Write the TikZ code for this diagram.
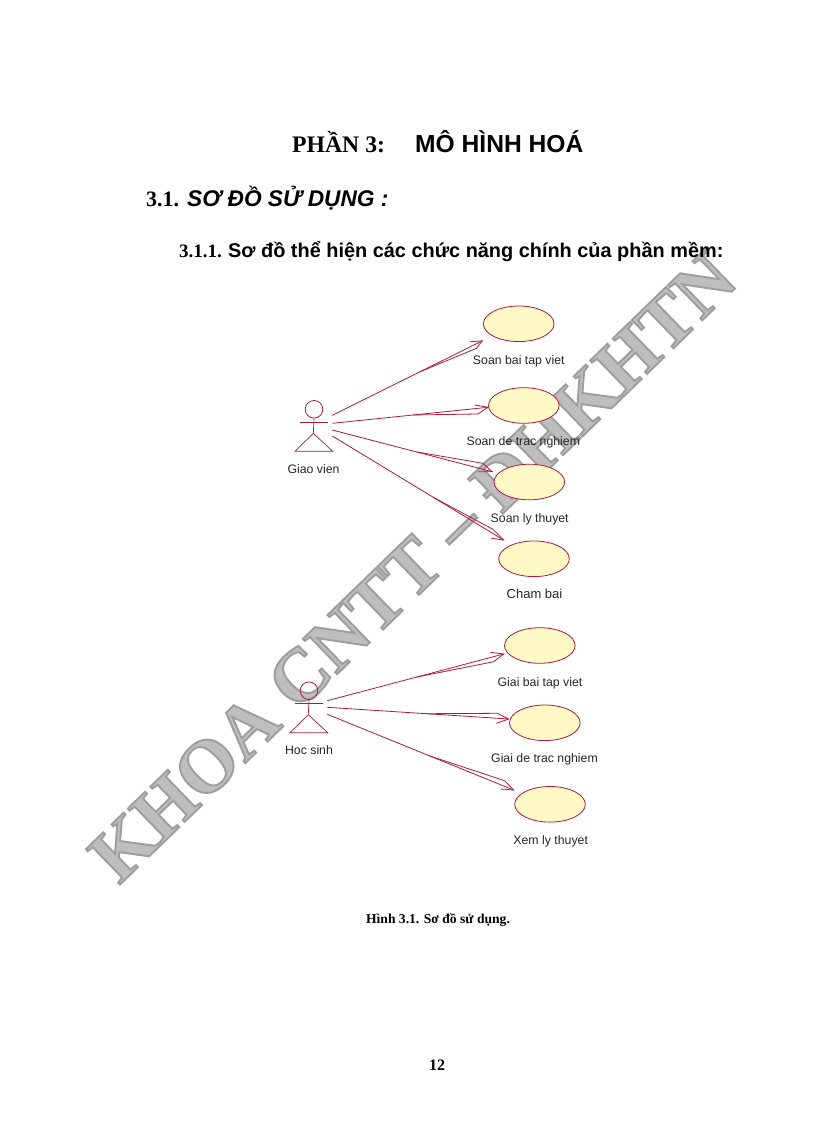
\documentclass[tikz,border=0pt]{standalone}
\usepackage{fontspec}
\usetikzlibrary{shapes.geometric,calc}
\setmainfont{Liberation Serif}
\setsansfont{Liberation Sans}
\newfontfamily\wmfont[FakeBold=2.6]{Liberation Serif Bold}
\definecolor{umlline}{HTML}{B01840}
\definecolor{umlfill}{HTML}{FFF9C6}
\definecolor{wmgray}{HTML}{BEBEBE}
\newcommand{\fsz}[1]{\fontsize{#1}{#1}\selectfont}
\newcommand{\ucassoc}[6]{%
  \coordinate (s#1) at #2;
  \coordinate (t#1) at #3;
  \coordinate (d#1) at ($(s#1)!#4!(t#1)$);
  \draw[assoc] (s#1) -- (t#1);
  \draw[assoc] (d#1) -- ([shift={#5}]t#1) -- (t#1) -- ([shift={#6}]t#1);
}
\newcommand{\ucactor}[2]{%
  \draw[actorline] (#1.south) -- ([shift={(#2,24)}]#1.center);
  \draw[actorline] ([shift={(-14,12.7)}]#1.center) -- ([shift={(13.5,12.7)}]#1.center);
  \draw[actorline] ([shift={(-0.7,24)}]#1.center) -- ([shift={(-19,42)}]#1.center) -- ([shift={(18.7,42)}]#1.center) -- cycle;
}
\tikzset{
  usecase/.style={draw=umlline,fill=umlfill,line width=0.8pt,ellipse,minimum width=70.6pt,minimum height=35.6pt,inner sep=0pt},
  actorhead/.style={draw=umlline,line width=0.8pt,circle,minimum size=17.6pt,inner sep=0pt},
  actorline/.style={draw=umlline,line width=0.7pt},
  assoc/.style={draw=umlline,line width=0.8pt},
  lbl/.style={font=\sffamily\fsz{12.3},text=black!85,anchor=base,inner sep=0pt},
  head/.style={anchor=base west,inner sep=0pt,text=black},
}
\begin{document}
\begin{tikzpicture}[x=1pt,y=-1pt]
\useasboundingbox (0,0) rectangle (816,1123);
\node[anchor=base west,inner sep=0pt,rotate=44.1,text=wmgray] (wm) at (119,885.5)
  {\wmfont\fsz{75}\special{pdf:code 0.62 G}KHOA CNTT – ĐHKHTN};
\node[head,font=\bfseries\fsz{23.7}] (t1a) at (292,153) {PHẦN 3:};
\node[head,font=\sffamily\bfseries\fsz{24.6}] (t1b) at (415,153) {MÔ HÌNH HOÁ};
\node[head,font=\bfseries\fsz{22}] (t2a) at (146,207) {3.1.};
\node[head,font=\sffamily\bfseries\itshape\fsz{22.7}] (t2b) at (187,207) {SƠ ĐỒ SỬ DỤNG :};
\node[head,font=\bfseries\fsz{19}] (t3a) at (179,257) {3.1.1.};
\node[head,font=\sffamily\bfseries\fsz{19.9}] (t3b) at (228,257) {Sơ đồ thể hiện các chức năng chính của phần mềm:};
\node[usecase] (e1) at (518.7,323.8) {};
\node[usecase] (e2) at (523.8,405.5) {};
\node[usecase] (e3) at (529.3,482) {};
\node[usecase] (e4) at (534,558.8) {};
\node[usecase] (e5) at (539.8,645.5) {};
\node[usecase] (e6) at (544.8,722.8) {};
\node[usecase] (e7) at (550,804.3) {};
\node[lbl] (l1) at (518.8,364) {Soan bai tap viet};
\node[lbl] (l2) at (523.3,445.5) {Soan de trac nghiem};
\node[lbl] (l3) at (529.7,522.5) {Soan ly thuyet};
\node[lbl,font=\sffamily\fsz{13}] (l4) at (534.5,598.8) {Cham bai};
\node[lbl] (l5) at (540,686.2) {Giai bai tap viet};
\node[lbl] (l6) at (544.5,762.8) {Giai de trac nghiem};
\node[lbl] (l7) at (550.7,844.5) {Xem ly thuyet};
\node[actorhead] (gv) at (314,409.3) {};
\node[actorhead] (hs) at (309,690.7) {};
\ucactor{gv}{-0.7}
\ucactor{hs}{-0.7}
\node[lbl] (lgv) at (313.5,473.2) {Giao vien};
\node[lbl] (lhs) at (309,754.5) {Hoc sinh};
\ucassoc{1}{([shift={(18.3,6)}]gv.center)}{([shift={(-0.7,17)}]e1.west)}{.583}{(-6,7.6)}{(-12.7,1)}
\ucassoc{2}{([shift={(18.3,14)}]gv.center)}{([shift={(-0.2,1.8)}]e2.west)}{.52}{(-10,6.7)}{(-13.3,-2.3)}
\ucassoc{3}{([shift={(18.3,20.7)}]gv.center)}{([shift={(-1.3,-10.3)}]e3.west)}{.526}{(-9.4,-8.4)}{(-14.4,0)}
\ucassoc{4}{([shift={(18.3,26.7)}]gv.center)}{([shift={(5.3,-18.8)}]e4.west)}{.588}{(-10.7,-10.7)}{(-12.3,-1.7)}
\ucassoc{5}{([shift={(18.3,10)}]hs.center)}{([shift={(-0.5,8.5)}]e5.west)}{.506}{(-10,7.7)}{(-13.3,-1.7)}
\ucassoc{6}{([shift={(18.3,16.6)}]hs.center)}{([shift={(-0.5,-3.8)}]e6.west)}{.547}{(-11.3,-5.7)}{(-12.3,4.3)}
\ucassoc{7}{([shift={(18.3,23.6)}]hs.center)}{([shift={(-0.7,-14.3)}]e7.west)}{.55}{(-9,-9.3)}{(-13,-1)}
\node[head,anchor=base,font=\bfseries\fsz{13.6}] (cap) at (438,923) {Hình 3.1. Sơ đồ sử dụng.};
\node[head,anchor=base,font=\bfseries\fsz{16}] (pg) at (437,1070) {12};
\end{tikzpicture}
\end{document}
